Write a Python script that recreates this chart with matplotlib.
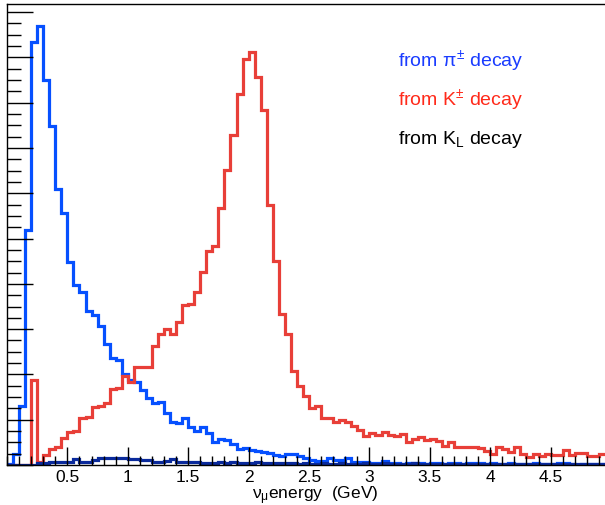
import numpy as np
import matplotlib
matplotlib.use("Agg")
import matplotlib.pyplot as plt
from matplotlib.ticker import MultipleLocator

# ---- data (arbitrary units, 0.05 GeV bins from 0 to 5 GeV) ----
bin_edges = np.round(np.arange(0, 5.0001, 0.05), 3)

pion = [0.02, 0.24, 1.31, 5.19, 9.35, 9.70, 8.50, 7.49, 6.09, 5.56,
        4.48, 3.97, 3.82, 3.41, 3.32, 3.06, 2.67, 2.36, 2.32, 2.01,
        1.88, 1.83, 1.66, 1.48, 1.37, 1.39, 1.15, 0.94, 0.92, 1.04,
        0.85, 0.76, 0.85, 0.70, 0.50, 0.58, 0.56, 0.47, 0.35, 0.37,
        0.33, 0.32, 0.29, 0.27, 0.23, 0.20, 0.25, 0.25, 0.19, 0.15,
        0.12, 0.08, 0.08, 0.15, 0.11, 0.11, 0.15, 0.07, 0.07, 0.07,
        0.05, 0.05, 0.08, 0.04, 0.04, 0.03, 0.05, 0.05, 0.05, 0.03,
        0.05, 0.04, 0.03, 0.05, 0.05, 0.03, 0.04, 0.04, 0.04, 0.03,
        0.04, 0.03, 0.03, 0.04, 0.03, 0.03, 0.03, 0.04, 0.03, 0.03,
        0.03, 0.04, 0.04, 0.02, 0.01, 0.02, 0.02, 0.02, 0.02, 0.02]

kaon = [0.00, 0.00, 0.00, 0.00, 1.88, 0.07, 0.22, 0.35, 0.40, 0.60,
        0.73, 0.74, 1.04, 1.05, 1.27, 1.31, 1.37, 1.68, 1.71, 1.97,
        1.83, 2.16, 2.17, 2.17, 2.62, 2.90, 3.00, 2.90, 3.15, 3.53,
        3.55, 3.81, 4.27, 4.73, 4.83, 5.67, 6.52, 7.29, 8.19, 8.96,
        9.11, 8.57, 7.84, 5.75, 4.51, 3.33, 2.90, 2.08, 1.74, 1.52,
        1.26, 1.30, 1.04, 1.04, 0.96, 1.00, 0.94, 0.87, 0.77, 0.65,
        0.71, 0.66, 0.72, 0.67, 0.65, 0.68, 0.50, 0.57, 0.61, 0.55,
        0.58, 0.54, 0.41, 0.50, 0.40, 0.40, 0.39, 0.39, 0.38, 0.32,
        0.24, 0.40, 0.35, 0.28, 0.39, 0.24, 0.17, 0.24, 0.19, 0.24,
        0.23, 0.22, 0.33, 0.21, 0.26, 0.26, 0.19, 0.19, 0.24, 0.24]

klong = [0.00, 0.00, 0.00, 0.00, 0.00, 0.04, 0.04, 0.07, 0.07, 0.07,
         0.07, 0.13, 0.06, 0.06, 0.11, 0.15, 0.15, 0.15, 0.15, 0.15,
         0.13, 0.14, 0.12, 0.10, 0.06, 0.06, 0.08, 0.13, 0.06, 0.07,
         0.06, 0.06, 0.05, 0.05, 0.05, 0.07, 0.04, 0.07, 0.05, 0.05,
         0.04, 0.07, 0.05, 0.04, 0.04, 0.04, 0.05, 0.04, 0.03, 0.04,
         0.03, 0.03, 0.04, 0.03, 0.03, 0.04, 0.03, 0.03, 0.03, 0.04,
         0.03, 0.03, 0.04, 0.03, 0.03, 0.03, 0.03, 0.04, 0.03, 0.03,
         0.03, 0.03, 0.03, 0.03, 0.03, 0.03, 0.03, 0.03, 0.03, 0.03,
         0.03, 0.03, 0.03, 0.03, 0.03, 0.03, 0.03, 0.03, 0.03, 0.03,
         0.03, 0.03, 0.03, 0.03, 0.03, 0.03, 0.03, 0.03, 0.03, 0.03]

xtick_vals = [0.5, 1, 1.5, 2, 2.5, 3, 3.5, 4, 4.5]
xtick_labels = ["0.5", "1", "1.5", "2", "2.5", "3", "3.5", "4", "4.5"]

legend_texts = ["from π$^{\\pm}$ decay", "from K$^{\\pm}$ decay", "from K$_{\\mathregular{L}}$ decay"]
xlabel_text = "ν$_{\\mathregular{μ}}$energy  (GeV)"

# ---- styling ----
plt.rcParams['font.family'] = ['Liberation Sans', 'DejaVu Sans']
plt.rcParams['mathtext.fontset'] = 'custom'
plt.rcParams['mathtext.rm'] = 'Liberation Sans'
plt.rcParams['mathtext.it'] = 'Liberation Sans'
plt.rcParams['mathtext.sf'] = 'Liberation Sans'

c_pi = "#0650ff"
c_k = "#e83f38"
c_kl = "#0a2a9c"

W, H = 605, 506
fig = plt.figure(figsize=(W / 100, H / 100), dpi=100)
ax = fig.add_axes([7 / W, (H - 466) / H, (W - 7) / W, (466 - 5) / H])

lw = 2.3
ax.stairs(pion, bin_edges, color=c_pi, lw=lw, baseline=0)
ax.stairs(kaon, bin_edges, color=c_k, lw=lw, baseline=0)
ax.stairs(klong, bin_edges, color=c_kl, lw=lw, baseline=0)

ax.set_xlim(0, 4.95)
ax.set_ylim(0, 10.18)

ax.set_xticks(xtick_vals)
ax.set_xticklabels(xtick_labels, fontsize=12.5)
ax.xaxis.set_minor_locator(MultipleLocator(0.1))
ax.yaxis.set_major_locator(MultipleLocator(1.0))
ax.yaxis.set_minor_locator(MultipleLocator(0.25))
ax.set_yticklabels([])
ax.tick_params(axis='x', which='major', direction='in', length=13, width=1, pad=3)
ax.tick_params(axis='x', which='minor', direction='in', length=6.5, width=1)
ax.tick_params(axis='y', which='major', direction='in', length=19, width=1)
ax.tick_params(axis='y', which='minor', direction='in', length=10, width=1)
ax.tick_params(labelleft=False)

for s in ['left', 'bottom', 'top']:
    ax.spines[s].set_linewidth(1.0)
ax.spines['right'].set_visible(False)

fig.text(315 / W, 1 - 496 / H, xlabel_text, fontsize=12.5, ha='center', va='center')

tx = (398 - 7) / (W - 7)
for txt, col, yp in zip(legend_texts, ["#1a3cff", "#ff2a1a", "black"], [61, 100, 140]):
    ax.text(tx, (466 - yp) / 461, txt, color=col, fontsize=14, transform=ax.transAxes,
            ha='left', va='center')

fig.savefig("out.png", dpi=100)
